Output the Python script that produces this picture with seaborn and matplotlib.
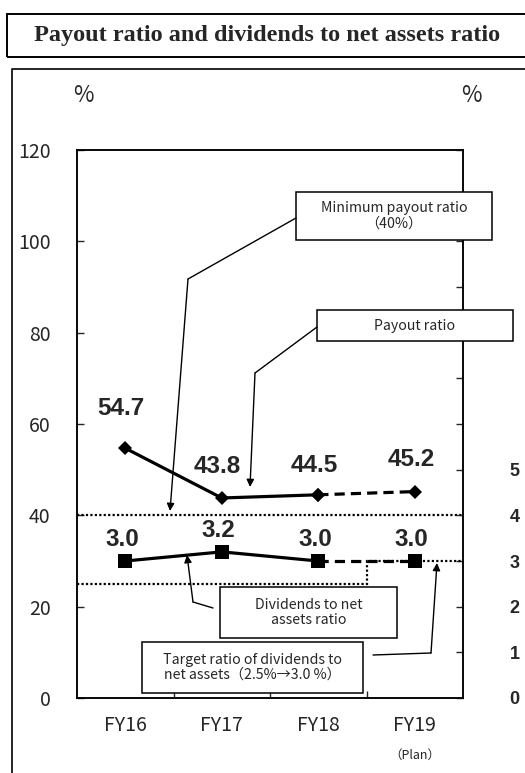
"""Payout ratio and dividends to net assets ratio"""
import matplotlib
matplotlib.use("Agg")
import matplotlib.pyplot as plt
from matplotlib.lines import Line2D
from matplotlib.patches import Rectangle
import numpy as np
import seaborn as sns

years = ["FY16", "FY17", "FY18", "FY19"]
payout = [54.7, 43.8, 44.5, 45.2]
dividends = [3.0, 3.2, 3.0, 3.0]
target = [2.5, 2.5, 2.5, 3.0]
min_payout = 40
left_ticks = [0, 20, 40, 60, 80, 100, 120]
right_ticks = list(range(13))
right_labels = ["0", "1", "2", "3", "4", "5", "", "", "", "", "", "", ""]

sns.set_style("ticks")
plt.rcParams["font.family"] = ["Noto Sans CJK JP", "DejaVu Sans"]

W, H = 525, 773
fig = plt.figure(figsize=(W / 100, H / 100), dpi=100)


def fp(x, y):
    # pixel position (from top left) -> figure fraction
    return x / W, 1 - y / H


ax = fig.add_axes([77 / W, 1 - 698 / H, 386 / W, 548 / H])
ax2 = ax.twinx()

xs = np.arange(len(years))
dotted = (0, (1, 1))
dashed = (0, (3.2, 1.9))

# minimum payout ratio and target ratio
ax.axhline(min_payout, color="black", lw=1.6, ls=dotted, zorder=1)
ax2.stairs(target, np.arange(-0.5, len(years)), baseline=None,
           color="black", lw=1.6, ls=dotted, zorder=1)

# payout ratio: actual solid, plan dashed
sns.lineplot(x=xs[:3], y=payout[:3], ax=ax, color="black", lw=2.3,
             marker="D", markersize=7.5, markeredgewidth=0, zorder=3)
sns.lineplot(x=xs[2:], y=payout[2:], ax=ax, color="black", lw=2.3,
             ls=dashed, marker="D", markersize=7.5, markeredgewidth=0, zorder=3)

# dividends to net assets ratio
sns.lineplot(x=xs[:3], y=dividends[:3], ax=ax2, color="black", lw=2.3,
             marker="s", markersize=9.5, markeredgewidth=0, zorder=3)
sns.lineplot(x=xs[2:], y=dividends[2:], ax=ax2, color="black", lw=2.3,
             ls=dashed, marker="s", markersize=9.5, markeredgewidth=0, zorder=3)

label_font = dict(family="Liberation Sans", weight="bold", size=17.5)
payout_dy = [40, 31, 29, 32]
for i, v in enumerate(payout):
    ax.annotate(f"{v:.1f}", xy=(xs[i], v), xytext=(-4, payout_dy[i]),
                textcoords="offset pixels", ha="center", va="center", **label_font)
for i, v in enumerate(dividends):
    ax2.annotate(f"{v:.1f}", xy=(xs[i], v), xytext=(-3, 21),
                 textcoords="offset pixels", ha="center", va="center", **label_font)

ax.set_xlim(-0.5, 3.5)
ax.set_ylim(0, 120)
ax2.set_ylim(0, 12)
ax.set_xlabel("")
ax.set_ylabel("")
ax2.set_ylabel("")

ax.set_xticks(xs)
ax.set_xticklabels(years, fontsize=14)
ax.set_xticks(xs[:-1] + 0.5, minor=True)
ax.tick_params(axis="x", which="major", length=0, pad=12)
ax.tick_params(axis="x", which="minor", direction="in", length=5, width=1)
ax.set_yticks(left_ticks)
ax.set_yticklabels([str(t) for t in left_ticks], fontsize=14)
ax.tick_params(axis="y", direction="in", length=5, width=1, pad=19)

ax2.set_yticks(right_ticks)
ax2.set_yticklabels(right_labels, fontsize=13, family="Liberation Sans",
                    weight="bold")
ax2.tick_params(axis="y", direction="in", length=5, width=1, pad=37)
for t in ax2.get_yticklabels():
    t.set_horizontalalignment("center")

for a in (ax, ax2):
    for s in a.spines.values():
        s.set_visible(True)
        s.set_color("black")
        s.set_linewidth(1.1)

ax.annotate("（Plan）", xy=(xs[3], 0), xycoords=("data", "axes fraction"),
            xytext=(0, -57), textcoords="offset pixels", ha="center",
            va="center", fontsize=9)

# units
fig.text(*fp(83, 96), "%", ha="center", va="center", fontsize=16)
fig.text(*fp(471, 96), "%", ha="center", va="center", fontsize=16)

# title box and frame
x0, y0 = fp(7, 57)
fig.add_artist(Rectangle((x0, y0), 1.05, 43 / H, transform=fig.transFigure,
                         fill=False, ec="black", lw=1.4))
fig.text(*fp(267, 35), "Payout ratio and dividends to net assets ratio",
         ha="center", va="center", family="Liberation Serif", weight="bold",
         fontsize=17.5)
fx, fy = zip(fp(12, 773), fp(12, 69), fp(525, 69))
fig.add_artist(Line2D(fx, fy, transform=fig.transFigure, color="black", lw=1.2))

# callout boxes with leader lines
callouts = [
    ("Minimum payout ratio\n（40%）", (296, 192, 492, 240),
     [(296, 218), (188, 279), (170, 511)]),
    ("Payout ratio", (317, 310, 513, 341),
     [(317, 327), (255, 373), (250, 487)]),
    ("Dividends to net\nassets ratio", (220, 587, 397, 638),
     [(213, 608), (193, 602), (187, 555)]),
    ("Target ratio of dividends to\nnet assets（2.5%→3.0 %）", (142, 642, 363, 693),
     [(373, 655), (431, 653), (437, 563)]),
]
for text, (bx0, by0, bx1, by1), path in callouts:
    lx, ly = fp(bx0, by1)
    fig.add_artist(Rectangle((lx, ly), (bx1 - bx0) / W, (by1 - by0) / H,
                             transform=fig.transFigure, fc="white",
                             ec="black", lw=1.1, zorder=4))
    fig.text(*fp((bx0 + bx1) / 2, (by0 + by1) / 2), text, ha="center",
             va="center", fontsize=10.2, linespacing=1.1, zorder=5)
    px, py = zip(*[fp(x, y) for x, y in path[:-1]])
    fig.add_artist(Line2D(px, py, transform=fig.transFigure, color="black",
                          lw=1.0, zorder=4))
    ax.annotate("", xy=(path[-1][0], H - path[-1][1]),
                xytext=(path[-2][0], H - path[-2][1]),
                xycoords="figure pixels", textcoords="figure pixels",
                arrowprops=dict(arrowstyle="-|>", color="black", lw=1.0,
                                mutation_scale=11, shrinkA=0, shrinkB=0),
                annotation_clip=False, zorder=4)

fig.savefig("out.png", dpi=100)
